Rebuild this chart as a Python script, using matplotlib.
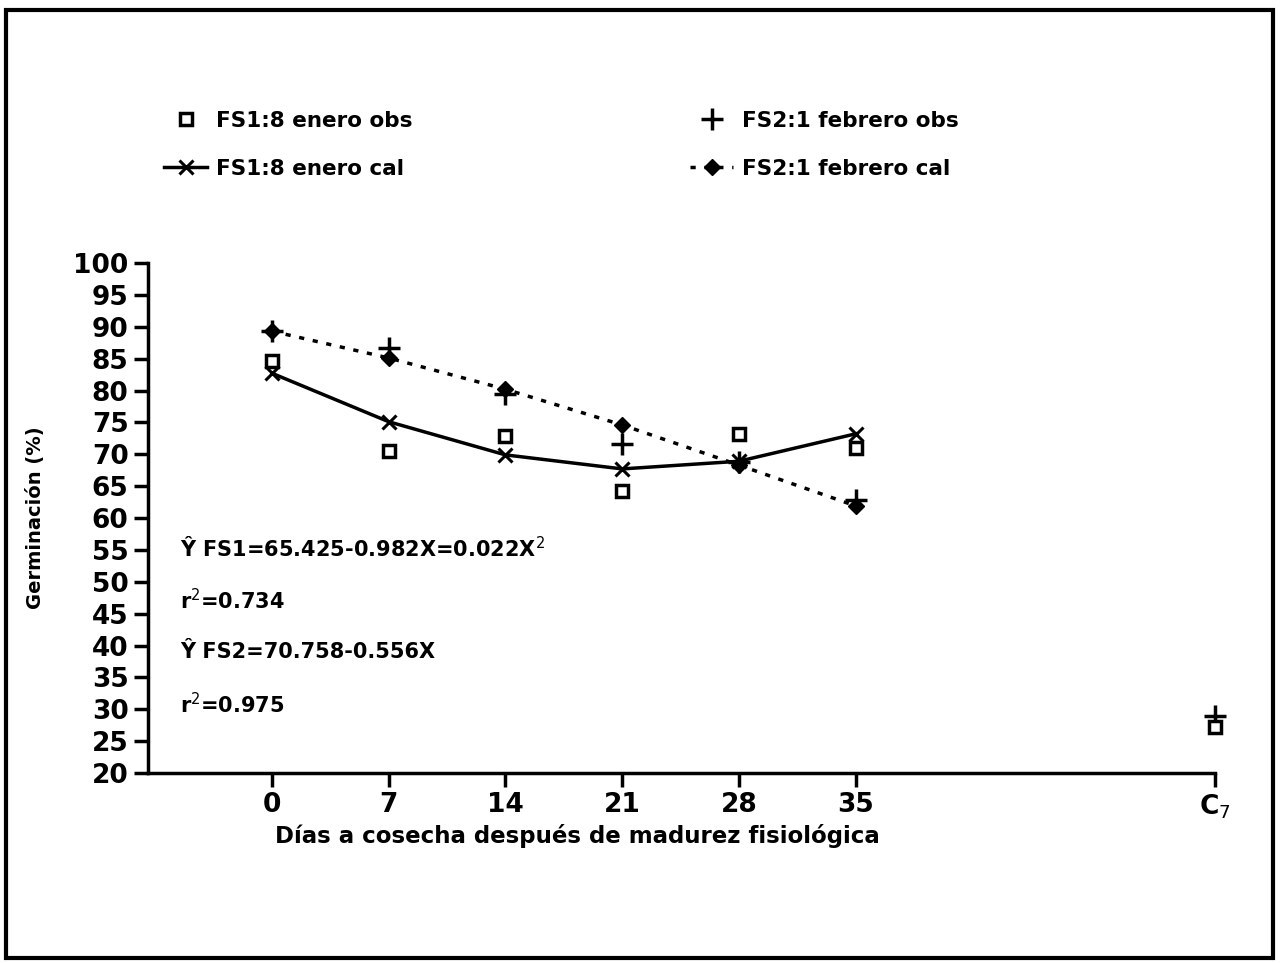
import matplotlib
matplotlib.use("Agg")
import matplotlib.pyplot as plt
from matplotlib.patches import Rectangle

# categories on the x axis
dias = ["0", "7", "14", "21", "28", "35"]
testigo = "C$_7$"

# germination (%)
fs1_obs = [84.6, 70.5, 72.9, 64.2, 73.2, 71.0]
fs1_cal = [82.7, 75.1, 69.9, 67.7, 68.9, 73.2]
fs2_obs = [89.3, 86.7, 79.5, 71.6, 68.8, 62.8]
fs2_cal = [89.3, 85.1, 80.2, 74.6, 68.3, 61.9]
fs1_c7 = 27.2
fs2_c7 = 28.9

yticks = list(range(20, 101, 5))

ecuaciones = [
    "Ŷ FS1=65.425-0.982X=0.022X$^{2}$",
    "r$^{2}$=0.734",
    "Ŷ FS2=70.758-0.556X",
    "r$^{2}$=0.975",
]

fig = plt.figure(figsize=(12.81, 9.63), dpi=100)
fig.patches.append(Rectangle((0.005, 0.005), 0.989, 0.985, transform=fig.transFigure,
                             fill=False, lw=3, ec="black"))

ax = fig.add_axes([148 / 1281, 1 - 773 / 963, (1215 - 148) / 1281, (773 - 263) / 963])
xpos = list(range(len(dias)))
c7pos = 8.08

ax.plot(xpos + [c7pos], fs2_obs + [fs2_c7], ls="none", marker="+", ms=16, mew=2.5,
        color="black", label="FS2:1 febrero obs", clip_on=False, zorder=2)
ax.plot(xpos, fs1_cal, color="black", lw=2.5, marker="x", ms=10, mew=2.2,
        label="FS1:8 enero cal", zorder=3)
ax.plot(xpos, fs2_cal, color="black", lw=2.5, ls=(0, (1.5, 2.5)), marker="D", ms=8,
        mfc="black", label="FS2:1 febrero cal", zorder=3)
ax.plot(xpos + [c7pos], fs1_obs + [fs1_c7], ls="none", marker="s", ms=9, mew=2.5,
        mfc="white", mec="black", label="FS1:8 enero obs", clip_on=False, zorder=4)

ax.set_xlim(-1.063, 8.08)
ax.set_ylim(20, 100)
ax.set_yticks(yticks)
ax.set_yticklabels([str(v) for v in yticks], fontsize=19, fontweight="bold")
ax.set_xticks(xpos + [c7pos])
ax.set_xticklabels(dias + [testigo], fontsize=19, fontweight="bold")
for s in ["top", "right"]:
    ax.spines[s].set_visible(False)
for s in ["left", "bottom"]:
    ax.spines[s].set_linewidth(2.5)
ax.tick_params(axis="both", direction="out", length=10, width=2.5, pad=4)

ax.set_ylabel("Germinación (%)", fontsize=14, fontweight="bold")
ax.yaxis.set_label_coords(-0.097, 0.5)
ax.set_xlabel("Días a cosecha después de madurez fisiológica", fontsize=16.5,
              fontweight="bold")
ax.xaxis.set_label_coords(0.402, -0.1)

for i, t in enumerate(ecuaciones):
    ax.text(0.03, 0.441 - i * 0.102, t, transform=ax.transAxes, fontsize=15,
            fontweight="bold", va="center")

h, l = ax.get_legend_handles_labels()
# handles were added as: FS2 obs, FS1 cal, FS2 cal, FS1 obs
orden = [3, 1, 0, 2]
fig.legend([h[i] for i in orden], [l[i] for i in orden], ncol=2, loc="upper left",
           bbox_to_anchor=(0.113, 0.905), frameon=False,
           prop={"weight": "bold", "size": 15.5}, columnspacing=12.9, handlelength=2.0,
           handletextpad=0.4, labelspacing=1.3)

fig.savefig("out.png", dpi=100)
